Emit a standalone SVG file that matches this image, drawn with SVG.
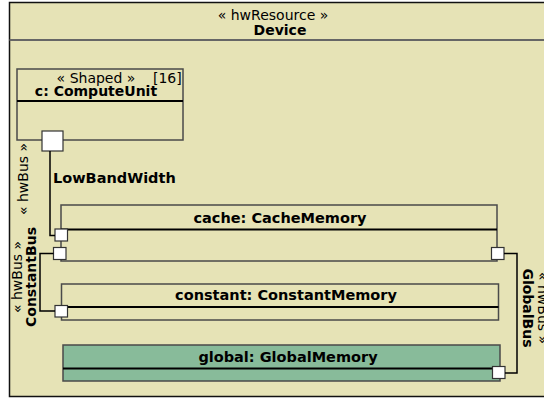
<svg xmlns="http://www.w3.org/2000/svg" width="544" height="398" viewBox="0 0 544 398">
<style>
text{font-family:"DejaVu Sans",Verdana,sans-serif;font-size:14px;fill:#000}
.b{font-weight:bold}
.t{font-size:14.5px}
.box{fill:#E6E3B6;stroke:#4a4a4a;stroke-width:1.5}
.div{stroke:#000;stroke-width:2}
.port{fill:#fff;stroke:#333;stroke-width:1.2}
.conn{fill:none;stroke:#000;stroke-width:1.5}
</style>
<rect width="544" height="398" fill="#fff"/>
<g id="device">
<rect x="9.5" y="2.5" width="560" height="394" fill="#E6E3B6" stroke="#111" stroke-width="1.5"/>
<line x1="9.5" y1="40" x2="544" y2="40" stroke="#666" stroke-width="2"/>
<text x="273" y="20" text-anchor="middle">« hwResource »</text>
<text x="280" y="35" text-anchor="middle" class="b">Device</text>
</g>
<g id="computeUnit">
<rect class="box" x="17" y="69" width="166" height="71" stroke="#777"/>
<line class="div" x1="17" y1="101" x2="183" y2="101" stroke="#555" stroke-width="1.5"/>
<text x="96" y="82.5" text-anchor="middle">« Shaped »</text>
<text x="153" y="82.5">[16]</text>
<text x="96" y="96" text-anchor="middle" class="b">c: ComputeUnit</text>
<rect class="port" x="42" y="131" width="21" height="20"/>
</g>
<g id="cache">
<rect class="box" x="61" y="205" width="436" height="56"/>
<line class="div" x1="61" y1="229.5" x2="497" y2="229.5"/>
<text x="280" y="223" text-anchor="middle" class="b t">cache: CacheMemory</text>
<rect class="port" x="55" y="229" width="12.5" height="12"/>
<rect class="port" x="53.5" y="247.5" width="12.5" height="12"/>
<rect class="port" x="491.5" y="247.5" width="12.5" height="12"/>
</g>
<g id="constant">
<rect class="box" x="61.5" y="284" width="437" height="36"/>
<line class="div" x1="61.5" y1="307" x2="498.5" y2="307"/>
<text x="286" y="300" text-anchor="middle" class="b t">constant: ConstantMemory</text>
<rect class="port" x="55" y="305.5" width="12.5" height="11.5"/>
</g>
<g id="global">
<rect x="63" y="345" width="437" height="36" fill="#88BB9A" stroke="#4a4a4a" stroke-width="1.5"/>
<line class="div" x1="63" y1="368.5" x2="500" y2="368.5"/>
<text x="288" y="362" text-anchor="middle" class="b t">global: GlobalMemory</text>
<rect class="port" x="492.5" y="366.5" width="12.5" height="12"/>
</g>
<g id="connectors">
<path class="conn" d="M50 151 V235.5 H55"/>
<path class="conn" d="M53.5 253.5 H40 V311 H55"/>
<path class="conn" d="M504 253.5 H517 V373 H505"/>
<text transform="translate(28,179) rotate(-90)" text-anchor="middle">« hwBus »</text>
<text transform="translate(22,277) rotate(-90)" text-anchor="middle">« hwBus »</text>
<text transform="translate(36,277) rotate(-90)" text-anchor="middle" class="b">ConstantBus</text>
<text x="53" y="183" class="b t">LowBandWidth</text>
<text transform="translate(538,308) rotate(90)" text-anchor="middle">« hwBus »</text>
<text transform="translate(523,308) rotate(90)" text-anchor="middle" class="b">GlobalBus</text>
</g>
</svg>
